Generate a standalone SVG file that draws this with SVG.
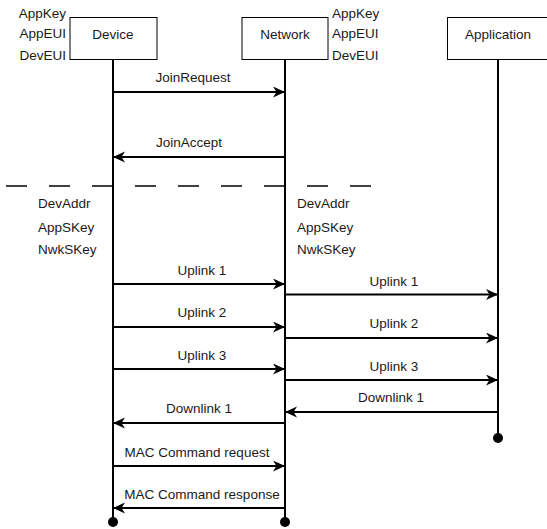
<svg xmlns="http://www.w3.org/2000/svg" width="547" height="529" viewBox="0 0 547 529">
  <style>
    text { font-family: "Liberation Sans", Arial, sans-serif; font-size: 13.5px; fill: #1a1a1a; }
    .mid { text-anchor: middle; }
    .end { text-anchor: end; }
    .box { fill: #ffffff; stroke: #000000; stroke-width: 1; }
    .life { stroke: #000000; stroke-width: 2; fill: none; }
    .msg { stroke: #000000; stroke-width: 2; fill: none; marker-end: url(#arrow); }
    .sep { stroke: #000000; stroke-width: 1.7; stroke-dasharray: 21 22; fill: none; }
  </style>
  <defs>
    <marker id="arrow" markerUnits="userSpaceOnUse" markerWidth="14" markerHeight="12" refX="12" refY="5.5" orient="auto">
      <path d="M0,0 L12,5.5 L0,11 L3.5,5.5 z" fill="#000000"/>
    </marker>
  </defs>
  <rect width="547" height="529" fill="#ffffff"/>

  <!-- Lifelines -->
  <g id="lifelines">
    <line class="life" x1="113" y1="60" x2="113" y2="522"/>
    <circle cx="113" cy="522" r="5" fill="#000000"/>
    <line class="life" x1="285" y1="60" x2="285" y2="522"/>
    <circle cx="285" cy="522" r="5" fill="#000000"/>
    <line class="life" x1="498" y1="60" x2="498" y2="438"/>
    <circle cx="498" cy="438" r="5" fill="#000000"/>
  </g>

  <!-- Participants -->
  <g id="device">
    <rect class="box" x="70" y="17.5" width="87" height="42"/>
    <text class="mid" x="113" y="39">Device</text>
  </g>
  <g id="network">
    <rect class="box" x="242" y="17.5" width="86" height="42"/>
    <text class="mid" x="285" y="39">Network</text>
  </g>
  <g id="application">
    <rect class="box" x="447.5" y="17.5" width="101" height="42"/>
    <text class="mid" x="498" y="39">Application</text>
  </g>

  <!-- Provisioned keys -->
  <g id="device-keys">
    <text class="end" x="66" y="18">AppKey</text>
    <text class="end" x="66" y="38">AppEUI</text>
    <text class="end" x="66" y="60">DevEUI</text>
  </g>
  <g id="network-keys">
    <text x="332" y="18">AppKey</text>
    <text x="332" y="38">AppEUI</text>
    <text x="332" y="60">DevEUI</text>
  </g>

  <!-- Join phase separator -->
  <line class="sep" x1="6" y1="186" x2="371" y2="186"/>

  <!-- Session keys -->
  <g id="device-session">
    <text x="38" y="208">DevAddr</text>
    <text x="38" y="232">AppSKey</text>
    <text x="38" y="254">NwkSKey</text>
  </g>
  <g id="network-session">
    <text x="297" y="208">DevAddr</text>
    <text x="297" y="232">AppSKey</text>
    <text x="297" y="254">NwkSKey</text>
  </g>

  <!-- Messages -->
  <g id="connectors">
    <line class="msg" x1="113" y1="92" x2="285" y2="92"/>
    <line class="msg" x1="285" y1="157" x2="113" y2="157"/>
    <line class="msg" x1="113" y1="284" x2="285" y2="284"/>
    <line class="msg" x1="285" y1="294.5" x2="498" y2="294.5"/>
    <line class="msg" x1="113" y1="327" x2="285" y2="327"/>
    <line class="msg" x1="285" y1="338" x2="498" y2="338"/>
    <line class="msg" x1="113" y1="369" x2="285" y2="369"/>
    <line class="msg" x1="285" y1="380" x2="498" y2="380"/>
    <line class="msg" x1="498" y1="412" x2="285" y2="412"/>
    <line class="msg" x1="285" y1="423" x2="113" y2="423"/>
    <line class="msg" x1="113" y1="466" x2="285" y2="466"/>
    <line class="msg" x1="285" y1="508" x2="113" y2="508"/>
  </g>

  <!-- Message labels -->
  <g id="labels">
    <text class="mid" x="193" y="82">JoinRequest</text>
    <text class="mid" x="189" y="147">JoinAccept</text>
    <text class="mid" x="202" y="275">Uplink 1</text>
    <text class="mid" x="394" y="286">Uplink 1</text>
    <text class="mid" x="202" y="317">Uplink 2</text>
    <text class="mid" x="394" y="328">Uplink 2</text>
    <text class="mid" x="202" y="360">Uplink 3</text>
    <text class="mid" x="394" y="371">Uplink 3</text>
    <text class="mid" x="391" y="402">Downlink 1</text>
    <text class="mid" x="199" y="413">Downlink 1</text>
    <text class="mid" x="197" y="457">MAC Command request</text>
    <text class="mid" x="202" y="499">MAC Command response</text>
  </g>
</svg>
